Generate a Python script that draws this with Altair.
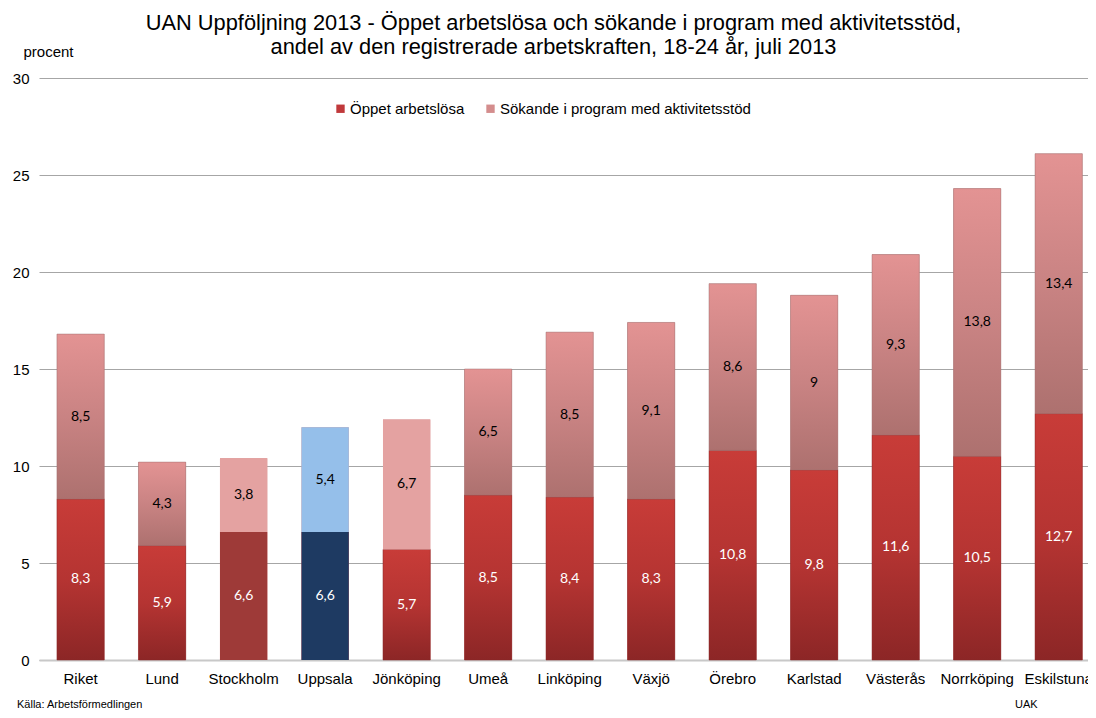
import altair as alt
import pandas as pd

categories = ["Riket", "Lund", "Stockholm", "Uppsala", "Jönköping", "Umeå", "Linköping",
              "Växjö", "Örebro", "Karlstad", "Västerås", "Norrköping", "Eskilstuna"]
oppet = [8.3, 5.9, 6.6, 6.6, 5.7, 8.5, 8.4, 8.3, 10.8, 9.8, 11.6, 10.5, 12.7]
sokande = [8.5, 4.3, 3.8, 5.4, 6.7, 6.5, 8.5, 9.1, 8.6, 9.0, 9.3, 13.8, 13.4]
series = ["Öppet arbetslösa", "Sökande i program med aktivitetsstöd"]

# style variants (kept apart from the values)
bottom_variant = {"Stockholm": "flat_dark", "Uppsala": "blue_dark"}
top_variant = {"Stockholm": "flat_light", "Jönköping": "flat_light", "Uppsala": "blue_light"}
flat_colors = {"flat_dark": "#9e3a38", "flat_light": "#e4a2a1",
               "blue_dark": "#1e3a62", "blue_light": "#95bfea"}

rows = []
for k, a, b in zip(categories, oppet, sokande):
    rows.append(dict(kommun=k, serie=series[0], value=a, y0=0.0, y1=a,
                     variant=bottom_variant.get(k, "grad_red"), textcolor="white"))
    rows.append(dict(kommun=k, serie=series[1], value=b, y0=a, y1=a + b,
                     variant=top_variant.get(k, "grad_pink"), textcolor="black"))
df = pd.DataFrame(rows)
df["mid"] = (df["y0"] + df["y1"]) / 2
df["label"] = df["value"].map(lambda v: (f"{v:.1f}".rstrip("0").rstrip(".")).replace(".", ","))
df["fill"] = df["variant"].map(lambda v: flat_colors.get(v, "#000000"))

xscale = alt.Scale(paddingInner=0.42, paddingOuter=0.145, align=0.76)
xenc = alt.X("kommun:N", sort=categories, title=None, scale=xscale,
             axis=alt.Axis(labelAngle=0, labelFont="Liberation Sans", labelFontSize=15,
                           labelColor="black", labelPadding=11, ticks=False, labelLimit=0,
                           domainColor="#c8c8c8", domainWidth=2))
yenc = alt.Y("y1:Q", title="procent",
             scale=alt.Scale(domain=[0, 30], nice=False),
             axis=alt.Axis(values=[0, 5, 10, 15, 20, 25, 30], grid=True, gridColor="#a6a6a6",
                           gridWidth=1, domain=False, ticks=False, labelPadding=10,
                           labelFont="Liberation Sans", labelFontSize=15, labelColor="black",
                           titleAngle=0, titleAlign="left", titleBaseline="alphabetic",
                           titleX=-16, titleY=-22, titleFont="Liberation Sans",
                           titleFontSize=15, titleFontWeight="normal", titleColor="black"))

base = alt.Chart(df).encode(x=xenc, y=yenc, y2="y0:Q")

legend_layer = base.mark_bar().encode(
    color=alt.Color("serie:N", sort=series,
                    scale=alt.Scale(domain=series, range=["#c0393b", "#d48d8d"]),
                    legend=alt.Legend(title=None, orient="none", legendX=294, legendY=23,
                                      direction="horizontal", symbolType="square",
                                      symbolSize=70, symbolStrokeWidth=0, labelLimit=0,
                                      labelFont="Liberation Sans", labelFontSize=15,
                                      labelColor="black", columnPadding=18, labelOffset=2))
)

grad_red = alt.Gradient(gradient="linear", x1=0, x2=0, y1=0, y2=1,
                        stops=[alt.GradientStop(color="#c83c38", offset=0),
                               alt.GradientStop(color="#b53432", offset=0.5),
                               alt.GradientStop(color="#8c2626", offset=1)])
grad_pink = alt.Gradient(gradient="linear", x1=0, x2=0, y1=0, y2=1,
                         stops=[alt.GradientStop(color="#e39393", offset=0),
                                alt.GradientStop(color="#c98383", offset=0.5),
                                alt.GradientStop(color="#ad716f", offset=1)])

red_layer = base.mark_bar(color=grad_red, stroke="#8a2a2a", strokeWidth=0.5).transform_filter(
    alt.datum.variant == "grad_red")
pink_layer = base.mark_bar(color=grad_pink, stroke="#a07070", strokeWidth=0.5).transform_filter(
    alt.datum.variant == "grad_pink")
flat_layer = base.mark_bar(strokeWidth=0.5).encode(
    color=alt.Color("fill:N", scale=None)).transform_filter(
    (alt.datum.variant != "grad_red") & (alt.datum.variant != "grad_pink"))

text_layer = alt.Chart(df).mark_text(font="Lato", fontSize=14, baseline="middle").encode(
    x=alt.X("kommun:N", sort=categories, scale=xscale),
    y=alt.Y("mid:Q"),
    text="label:N",
    color=alt.Color("textcolor:N", scale=None),
)

notes = pd.DataFrame({"t": ["Källa: Arbetsförmedlingen", "UAK"]})
note_layer = alt.Chart(notes).mark_text(font="Liberation Sans", fontSize=11, align="left",
                                        baseline="alphabetic", color="black").encode(
    x=alt.value(-22), y=alt.value(630), text="t:N"
).transform_filter(alt.datum.t == "Källa: Arbetsförmedlingen")
note_layer2 = alt.Chart(notes).mark_text(font="Liberation Sans", fontSize=11, align="left",
                                         baseline="alphabetic", color="black").encode(
    x=alt.value(976), y=alt.value(630), text="t:N"
).transform_filter(alt.datum.t == "UAK")

chart = alt.layer(legend_layer, red_layer, pink_layer, flat_layer, text_layer,
                  note_layer, note_layer2).properties(
    width=1049, height=582,
    autosize=alt.AutoSizeParams(type="none"),
    padding={"left": 31, "top": 70, "right": 0, "bottom": 50},
    title=alt.TitleParams(
        text=["UAN Uppföljning 2013 - Öppet arbetslösa och sökande i program med aktivitetsstöd,",
              "andel av den registrerade arbetskraften, 18-24 år, juli 2013"],
        font="Liberation Sans", fontSize=21.8, fontWeight="normal", color="black",
        anchor="middle", dx=-10, dy=35, offset=20, lineHeight=24),
).resolve_scale(color="independent").configure_view(stroke=None)

chart.save("out.html", embed_options={"renderer": "svg", "actions": False})
